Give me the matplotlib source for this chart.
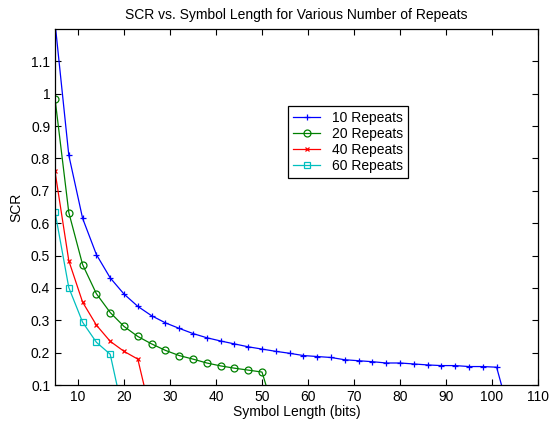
import matplotlib
matplotlib.use("Agg")
import matplotlib.pyplot as plt
from matplotlib.ticker import FuncFormatter

plt.rcParams['font.family'] = ['Liberation Sans', 'DejaVu Sans']
plt.rcParams['font.size'] = 10

# symbol length (bits) and SCR for each repeat count
x10 = [5, 8, 11, 14, 17, 20, 23, 26, 29, 32, 35, 38, 41, 44, 47, 50, 53, 56, 59,
       62, 65, 68, 71, 74, 77, 80, 83, 86, 89, 92, 95, 98, 101, 104]
y10 = [1.22, 0.81, 0.615, 0.503, 0.431, 0.381, 0.343, 0.314, 0.292, 0.275, 0.259,
       0.246, 0.236, 0.227, 0.218, 0.211, 0.204, 0.198, 0.191, 0.188, 0.185,
       0.178, 0.175, 0.172, 0.168, 0.168, 0.165, 0.162, 0.16, 0.16, 0.157,
       0.157, 0.155, 0.0]
x20 = [5, 8, 11, 14, 17, 20, 23, 26, 29, 32, 35, 38, 41, 44, 47, 50, 53]
y20 = [0.985, 0.633, 0.472, 0.382, 0.324, 0.281, 0.25, 0.227, 0.207, 0.191,
       0.18, 0.168, 0.159, 0.152, 0.146, 0.14, 0.0]
x40 = [5, 8, 11, 14, 17, 20, 23, 26]
y40 = [0.76, 0.484, 0.356, 0.285, 0.235, 0.204, 0.18, 0.0]
x60 = [5, 8, 11, 14, 17, 20]
y60 = [0.635, 0.401, 0.294, 0.232, 0.195, 0.0]

fig = plt.figure(figsize=(5.5, 4.23), dpi=100)
ax = fig.add_axes([55 / 550, 1 - 385 / 423, 483 / 550, 356 / 423])

lw = 0.9
ax.plot(x10, y10, color=(0, 0, 1), marker='+', ms=5, mew=0.9, lw=lw, label='10 Repeats')
ax.plot(x20, y20, color=(0, 0.5, 0), marker='o', ms=5, mfc='none', mew=0.9, lw=lw, label='20 Repeats')
ax.plot(x40, y40, color=(1, 0, 0), marker='x', ms=3, mew=0.9, lw=lw, label='40 Repeats')
ax.plot(x60, y60, color=(0, 0.75, 0.75), marker='s', ms=4, mfc='none', mew=0.9, lw=lw, label='60 Repeats')

ax.set_xlim(5, 110)
ax.set_ylim(0.1, 1.2)
ax.set_xticks(range(10, 111, 10))
ax.set_yticks([i / 10 for i in range(1, 12)])
ax.yaxis.set_major_formatter(FuncFormatter(lambda v, p: '%g' % round(v, 2)))
ax.tick_params(direction='in', top=True, right=True, length=4, width=0.8, labelsize=10)
for s in ax.spines.values():
    s.set_linewidth(0.9)

ax.set_title('SCR vs. Symbol Length for Various Number of Repeats', fontsize=10, pad=7)
ax.set_xlabel('Symbol Length (bits)', fontsize=10, labelpad=1)
ax.set_ylabel('SCR', fontsize=10, labelpad=5)

leg = ax.legend(loc='lower left', bbox_to_anchor=(0.482, 0.581), fancybox=False,
                edgecolor='black', framealpha=1, fontsize=10, handlelength=2.0,
                borderpad=0.35, labelspacing=0.15, borderaxespad=0)
leg.get_frame().set_linewidth(0.9)

fig.savefig('out.png', dpi=100)
